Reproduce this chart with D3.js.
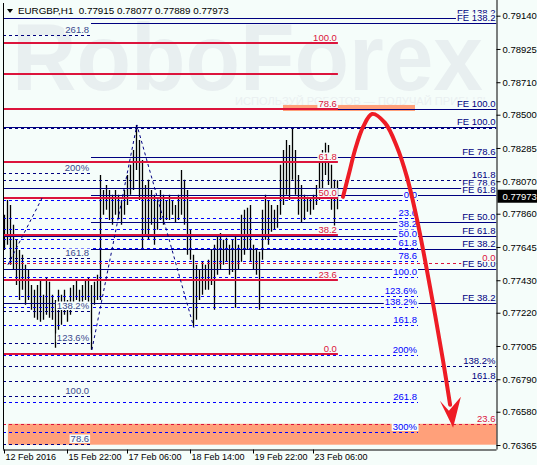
<!DOCTYPE html>
<html>
<head>
<meta charset="utf-8">
<script src="https://cdn.jsdelivr.net/npm/d3@7"></script>
<style>
  html, body { margin: 0; padding: 0; background: #f5fdfa; }
  svg text { font-family: "Liberation Sans", Arial, sans-serif; }
</style>
</head>
<body>
<div id="chart"></div>
<script>
// header
const symbol = "EURGBP,H1";
const lastOHLC = [0.77915, 0.78077, 0.77889, 0.77973];

// H1 bars (high / low)
const highs = [0.77853,0.77949,0.77917,0.77788,0.77691,0.77626,0.77594,0.77530,0.77497,0.77400,
  0.77368,0.77400,0.77433,0.77336,0.77446,0.77420,0.77336,0.77303,0.77368,0.77336,
  0.77368,0.77303,0.77381,0.77400,0.77433,0.77368,0.77400,0.77433,0.77446,0.77400,
  0.77420,0.77465,0.78111,0.78014,0.78046,0.78014,0.77982,0.78014,0.77982,0.77949,
  0.78014,0.78111,0.78176,0.78272,0.78434,0.78337,0.78208,0.78046,0.78079,0.78014,
  0.77982,0.77949,0.78014,0.77982,0.77949,0.77982,0.77949,0.77917,0.77982,0.78143,
  0.78079,0.78014,0.77756,0.77594,0.77530,0.77497,0.77549,0.77530,0.77562,0.77626,
  0.77659,0.77723,0.77736,0.77691,0.77704,0.77659,0.77691,0.77710,0.77659,0.77853,
  0.77885,0.77898,0.77917,0.77659,0.77626,0.77614,0.77885,0.77982,0.77949,0.77917,
  0.77885,0.77917,0.78176,0.78272,0.78337,0.78305,0.78421,0.78272,0.78111,0.78046,
  0.77982,0.77969,0.77962,0.77982,0.78046,0.78208,0.78272,0.78318,0.78305,0.78176,
  0.78079,0.78077];
const lows = [0.77626,0.77659,0.77530,0.77497,0.77400,0.77303,0.77368,0.77271,0.77303,0.77239,
  0.77187,0.77174,0.77161,0.77174,0.77207,0.77187,0.77174,0.76993,0.77110,0.77142,
  0.77207,0.77161,0.77207,0.77239,0.77303,0.77271,0.77252,0.77303,0.77239,0.76980,
  0.77271,0.77303,0.77303,0.77853,0.77885,0.77820,0.77788,0.77853,0.77833,0.77788,
  0.77853,0.77917,0.77982,0.78014,0.78143,0.77949,0.77626,0.77723,0.77691,0.77788,
  0.77659,0.77756,0.77820,0.77788,0.77820,0.77820,0.77853,0.77807,0.77820,0.77853,
  0.77788,0.77594,0.77562,0.77129,0.77174,0.77303,0.77336,0.77368,0.77368,0.77400,
  0.77239,0.77465,0.77497,0.77530,0.77549,0.77465,0.77484,0.77252,0.77497,0.77549,
  0.77594,0.77626,0.77549,0.77497,0.77465,0.77239,0.77562,0.77691,0.77659,0.77743,
  0.77756,0.77769,0.77853,0.77917,0.77982,0.77949,0.78079,0.77982,0.77853,0.77807,
  0.77820,0.77872,0.77853,0.77885,0.77917,0.77949,0.78014,0.78111,0.78046,0.77885,
  0.77769,0.77889];

// axes
const timeLabels = ["12 Feb 2016", "15 Feb 22:00", "17 Feb 06:00", "18 Feb 14:00", "19 Feb 22:00", "23 Feb 06:00"];
const timeTickBars = [0, 21, 41, 62, 83, 103];
const priceTicks = [0.79140, 0.78925, 0.78710, 0.78500, 0.78285, 0.78070, 0.77860,
  0.77645, 0.77430, 0.77220, 0.77005, 0.76790, 0.76580, 0.76365];

// fibonacci objects: [price at 0%, price at 100%]
const fibRatios = [0, 23.6, 38.2, 50, 61.8, 78.6, 100, 123.6, 138.2, 161.8, 200, 261.8, 300];
const fibTexts = ["0.0", "23.6", "38.2", "50.0", "61.8", "78.6", "100.0", "123.6%", "138.2%", "161.8", "200%", "261.8", "300%"];
const blueFib = [0.77949, 0.77449];
const navyFib = [0.75242, 0.76683];
const redFibRatios = [0, 23.6, 38.2, 50, 61.8, 78.6, 90, 100];
const redFibTexts = ["0.0", "23.6", "38.2", "50.0", "61.8", "78.6", "", "100.0"];
const redFib = [0.76955, 0.78964];
const redRayRatios = [0, 23.6];
const redRay = [0.77542, 0.73135];
const feRatios = [38.2, 50, 61.8, 78.6, 100, 138.2];
const feA = [0.76581, 0.78421];
const feB = [0.77074, 0.78537];
const dashRays = [0.78415, 0.78079, 0.76877, 0.76780];
const dashRayTexts = ["", "161.8", "138.2%", "161.8"];

// target zones [fromBar, toBar, top, bottom]
const zones = [[93, 137, 0.78563, 0.78524], [1.3, 170, 0.76502, 0.76367]];
// dashed fib anchor lines [bar, price]
const zigzagA = [[1.3, 0.77530], [12.7, 0.77962]];
const zigzagB = [[29.3, 0.76980], [44.3, 0.78434], [63.3, 0.77123]];
// forecast arrow [bar, price]
const arrowLine = [[113, 0.77969], [115.3, 0.78143], [117, 0.78272], [119.7, 0.78421], [122.7, 0.78505],
  [127, 0.78447], [131, 0.78292], [134.3, 0.78098], [137.7, 0.77820], [142, 0.77387],
  [146.3, 0.76916], [148.7, 0.76625]];
const arrowHead = [[145.3, 0.76651], [149.7, 0.76477], [152.3, 0.76677], [148.3, 0.76586]];

const W = 537, H = 465, bg = "#f5fdfa";
const L = 3, R = 496.5, T = 3, B = 449.5;

const svg = d3.select("#chart").append("svg").attr("width", W).attr("height", H);
svg.append("rect").attr("width", W).attr("height", H).attr("fill", bg);

const x = d3.scaleLinear().domain([0, 111]).range([4, 337]);
const y = d3.scaleLinear().domain([0.76365, 0.79140]).range([445, 15.7]);

svg.append("clipPath").attr("id", "plot").append("rect")
  .attr("x", L).attr("y", T).attr("width", R - L).attr("height", B - T);
const g = svg.append("g").attr("clip-path", "url(#plot)");

// watermark
g.append("text").attr("x", 12).attr("y", 90).attr("font-size", 94).attr("font-weight", "bold")
  .attr("textLength", 471).attr("lengthAdjust", "spacingAndGlyphs")
  .attr("fill", "#e8eff0").text("RoboForex");
g.append("text").attr("x", 235).attr("y", 105).attr("font-size", 11)
  .attr("textLength", 255).attr("lengthAdjust", "spacingAndGlyphs")
  .attr("fill", "#eaf0f1").text("ИСПОЛЬЗУЙ РОБОТОВ — ПОЛУЧАЙ ПРИБЫЛЬ");

// zones
g.selectAll("rect.zone").data(zones).enter().append("rect").attr("class", "zone")
  .attr("x", d => x(d[0])).attr("width", d => x(d[1]) - x(d[0]))
  .attr("y", d => y(d[2])).attr("height", d => y(d[3]) - y(d[2]))
  .attr("fill", "#ffa07a");

// bars
g.selectAll("line.bar").data(highs).enter().append("line").attr("class", "bar")
  .attr("x1", (d, i) => Math.round(x(i)) + 0.5).attr("x2", (d, i) => Math.round(x(i)) + 0.5)
  .attr("y1", d => y(d)).attr("y2", (d, i) => y(lows[i]))
  .attr("stroke", "#000").attr("stroke-width", 1.3);

// level lines
const styles = {
  navy: { stroke: "#000080", w: 1, dash: null, text: "#000080" },
  navyDash: { stroke: "#000080", w: 1, dash: "3,3", text: "#000080" },
  slateDash: { stroke: "#000080", w: 1, dash: "3,3", text: "#3a4a8e" },
  blueDash: { stroke: "#0000ff", w: 1, dash: "3,3", text: "#0000ff" },
  red: { stroke: "#dc143c", w: 2, dash: null, text: "#dc143c" },
  redDash: { stroke: "#dc143c", w: 1, dash: "3,3", text: "#dc143c" }
};
const levels = [];
function fib(anchor, ratios, texts, x0, x1, style) {
  ratios.forEach((r, i) => levels.push({
    price: anchor[0] + (anchor[1] - anchor[0]) * r / 100, text: texts[i], x0, x1, style
  }));
}
const xLeft = L, xRight = R;
fib(feA, feRatios, feRatios.map(r => "FE " + r.toFixed(1)), xLeft, xRight, "navy");
fib(feB, feRatios, feRatios.map(r => "FE " + r.toFixed(1)), x(29), xRight, "navy");
dashRays.forEach((p, i) => levels.push({ price: p, text: dashRayTexts[i], x0: xLeft, x1: xRight, style: "navyDash" }));
fib(navyFib, fibRatios, fibTexts, xLeft, x(28.7), "slateDash");
fib(blueFib, fibRatios, fibTexts, xLeft, x(138), "blueDash");
fib(redRay, redRayRatios, ["0.0", "23.6"], xLeft, xRight, "redDash");
fib(redFib, redFibRatios, redFibTexts, xLeft, x(111.3), "red");

levels.forEach(l => {
  const s = styles[l.style];
  const yy = Math.round(y(l.price)) + (s.w === 1 ? 0.5 : 0);
  g.append("line").attr("x1", l.x0).attr("x2", l.x1).attr("y1", yy).attr("y2", yy)
    .attr("stroke", s.stroke).attr("stroke-width", s.w)
    .attr("stroke-dasharray", s.dash);
});

// zigzag anchor lines
const zz = d3.line().x(d => x(d[0])).y(d => y(d[1]));
[zigzagA, zigzagB].forEach(pts => g.append("path").attr("d", zz(pts)).attr("fill", "none")
  .attr("stroke", "#000080").attr("stroke-dasharray", "3,3"));

// level labels
levels.forEach(l => {
  if (!l.text) return;
  const s = styles[l.style];
  const yy = Math.round(y(l.price));
  const t = g.append("text").attr("x", l.x1 - 1).attr("y", yy - 2)
    .attr("text-anchor", "end").attr("font-size", 9.5).attr("fill", s.text).text(l.text);
  const b = t.node().getBBox();
  g.insert("rect", () => t.node()).attr("x", b.x - 1).attr("y", b.y + 1.5)
    .attr("width", b.width + 2).attr("height", b.height - 2.5).attr("fill", bg);
});

// forecast arrow
g.append("path").attr("d", d3.line().curve(d3.curveCatmullRom).x(d => x(d[0])).y(d => y(d[1]))(arrowLine))
  .attr("fill", "none").attr("stroke", "#ee1c25").attr("stroke-width", 4).attr("stroke-linecap", "round");
g.append("path").attr("d", zz(arrowHead) + "Z").attr("fill", "#ee1c25");

// frame
svg.append("line").attr("x1", L + 0.5).attr("x2", L + 0.5).attr("y1", T).attr("y2", B).attr("stroke", "#000");

// axes
const yAxis = svg.append("g").attr("transform", `translate(${R},0)`)
  .call(d3.axisRight(y).tickValues(priceTicks).tickFormat(d3.format(".5f")).tickSize(4).tickSizeOuter(0));
yAxis.select(".domain").attr("d", `M0.5,0V${B}`);
yAxis.selectAll("text").attr("font-size", 9.5).attr("font-family", "Liberation Sans, Arial, sans-serif").attr("x", 6);

const xAxis = svg.append("g").attr("transform", `translate(0,${B})`)
  .call(d3.axisBottom(x).tickValues(timeTickBars).tickFormat((d, i) => timeLabels[i]).tickSize(4).tickSizeOuter(0));
xAxis.select(".domain").attr("d", `M${L},0.5H${R}`);
xAxis.selectAll("text").attr("font-size", 9).attr("font-family", "Liberation Sans, Arial, sans-serif")
  .attr("text-anchor", "start").attr("dx", 1).attr("y", 4.5);

// current price tag
const cy = y(lastOHLC[3]);
svg.append("rect").attr("x", R + 1).attr("y", cy - 6.5).attr("width", W - R).attr("height", 13).attr("fill", "#000");
svg.append("text").attr("x", R + 6).attr("y", cy + 3.5).attr("font-size", 9.5).attr("fill", "#fff")
  .text(d3.format(".5f")(lastOHLC[3]));

// header
svg.append("path").attr("d", "M7,9H13L10,13Z").attr("fill", "#000");
svg.append("text").attr("x", 18).attr("y", 14).attr("font-size", 9.8).attr("fill", "#000")
  .attr("xml:space", "preserve")
  .text(symbol + "  " + lastOHLC.map(d3.format(".5f")).join(" "));
</script>
</body>
</html>
